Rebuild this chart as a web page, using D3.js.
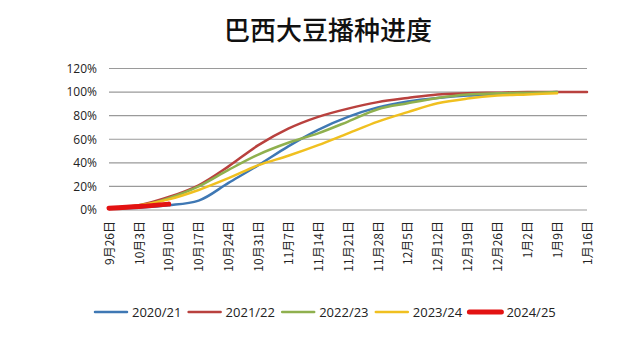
<!DOCTYPE html>
<html><head><meta charset="utf-8">
<script src="https://cdn.jsdelivr.net/npm/d3@7"></script>
<style>body{margin:0;background:#fff}svg{display:block}</style>
</head><body>
<svg id="c" width="640" height="360"></svg>
<script>
const title = "巴西大豆播种进度";
const categories = ["9月26日","10月3日","10月10日","10月17日","10月24日","10月31日","11月7日","11月14日","11月21日","11月28日","12月5日","12月12日","12月19日","12月26日","1月2日","1月9日","1月16日"];
const yTicks = [0,20,40,60,80,100,120];
const seriesNames = ["2020/21","2021/22","2022/23","2023/24","2024/25"];
const s2020 = [1,2,4,8,23,38,54,68,79,87,92,95,97,98,99,100];
const s2021 = [1,4,11,21,37,55,69,79,86,91.5,95,98,99,99.5,100,100,100];
const s2022 = [1,3,10,20,34,47,57,65,75,85.5,90.5,95,98,99,99.5,100];
const s2023 = [1,4,9,17,27,38,46,55,65,75,83,90.5,94.5,97,98,99];
const s2024 = [1.5,3,5];
const colors = ["#3f78b4","#b9413e","#8fb04e","#f0c020","#e31212"];
const widths = [2.5,2.5,2.5,2.5,5];
const allSeries = [s2020,s2021,s2022,s2023,s2024];

const svg = d3.select("#c");
svg.append("text").attr("x",328).attr("y",40).attr("text-anchor","middle")
  .attr("font-family","'Noto Sans CJK SC'").attr("font-weight",500).attr("font-size",26).attr("fill","#111").text(title);

const x = d3.scalePoint().domain(categories).range([109,587]);
const y = d3.scaleLinear().domain([0,120]).range([210,68.5]);

const grid = svg.append("g");
grid.selectAll("line").data(yTicks).join("line")
  .attr("x1",109).attr("x2",587).attr("y1",d=>y(d)).attr("y2",d=>y(d))
  .attr("stroke","#9a9a9a").attr("stroke-width",1.2);

const yAxis = svg.append("g").attr("transform","translate(109,0)")
  .call(d3.axisLeft(y).tickValues(yTicks).tickSize(0).tickPadding(12).tickFormat(d=>d+"%"));
yAxis.select(".domain").remove();
yAxis.selectAll("text").attr("font-family","'Open Sans'").attr("font-size",12).attr("fill","#222");

const xAxis = svg.append("g").attr("transform","translate(0,210)")
  .call(d3.axisBottom(x).tickSize(0).tickPadding(0));
xAxis.select(".domain").remove();
xAxis.selectAll("text").attr("font-family","'Noto Sans CJK SC'").attr("font-size",12).attr("fill","#222")
  .attr("text-anchor","end")
  .attr("transform","translate(0,11) rotate(-90)").attr("dx",0).attr("dy","0.35em");

const line = d3.line().x((d,i)=>x(categories[i])).y(d=>y(d)).curve(d3.curveMonotoneX);
allSeries.forEach((s,k)=>{
  svg.append("path").datum(s).attr("d",line).attr("fill","none")
    .attr("stroke",colors[k]).attr("stroke-width",widths[k]).attr("stroke-linecap","round");
});

const leg = svg.append("g");
seriesNames.forEach((n,k)=>{
  const lx = 95 + k*93.6;
  leg.append("line").attr("x1",lx).attr("x2",lx+32).attr("y1",312).attr("y2",312)
    .attr("stroke",colors[k]).attr("stroke-width",widths[k]).attr("stroke-linecap","round");
  leg.append("text").attr("x",lx+37).attr("y",316.5).attr("font-family","'Open Sans'")
    .attr("font-size",13).attr("fill","#222").text(n);
});
</script>
</body></html>
